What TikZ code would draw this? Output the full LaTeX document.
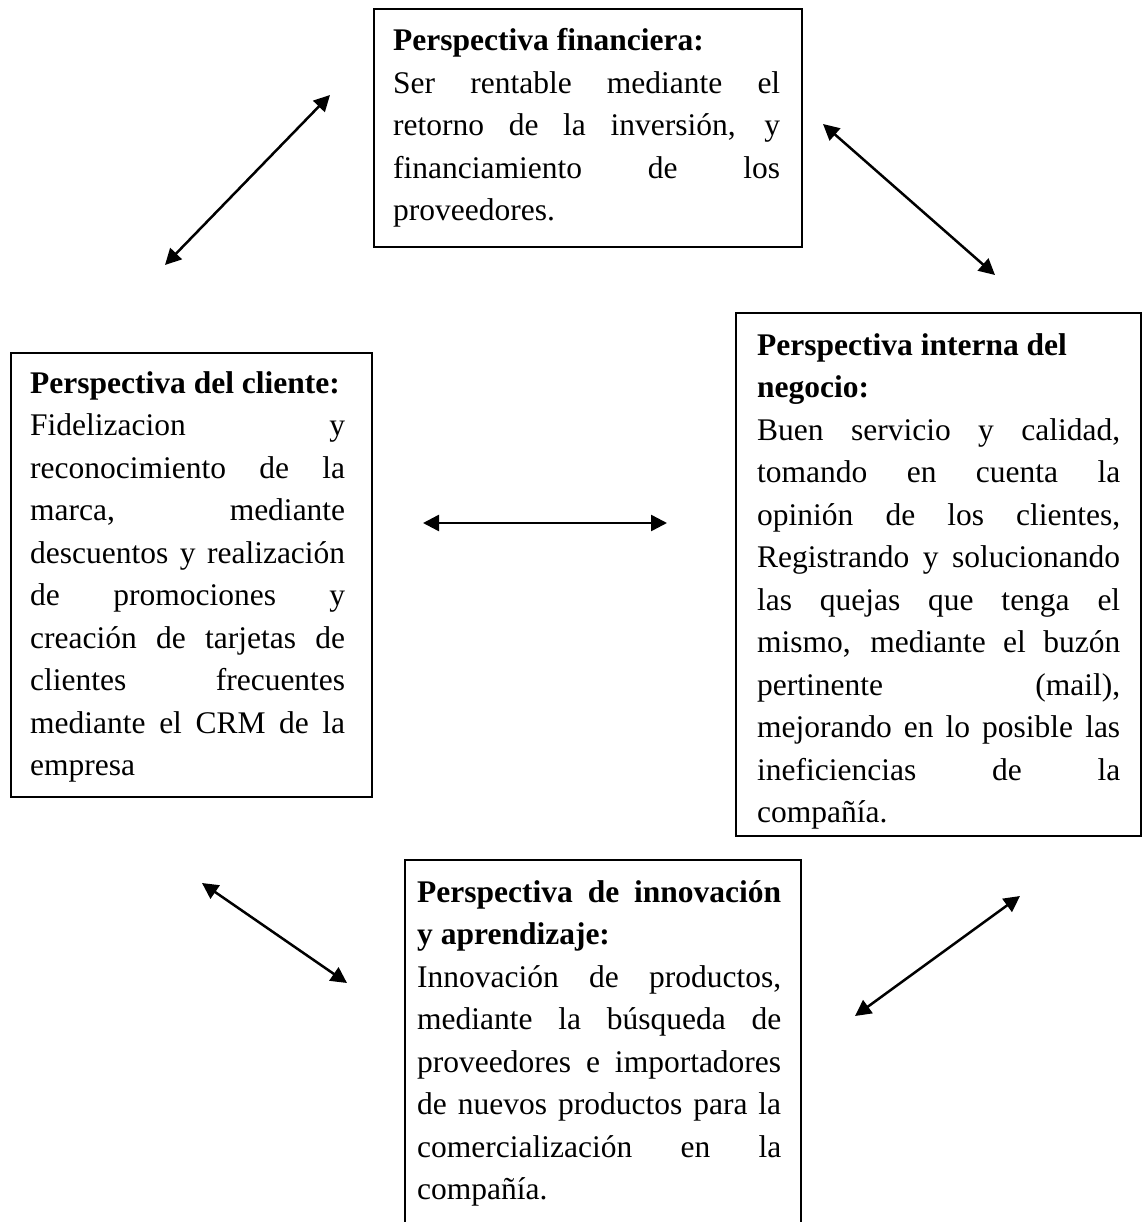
\documentclass[tikz,border=0pt]{standalone}
\usepackage{fontspec}
\setmainfont{Liberation Serif}
\usetikzlibrary{arrows.meta}
\newcommand\jfy{\rightskip=0pt\leftskip=0pt\parfillskip=0pt plus 1fil\relax}
\begin{document}
\begin{tikzpicture}[x=1pt,y=-1pt,
  boxline/.style={draw=black,line width=2pt},
  txt/.style={anchor=north west,inner sep=0pt,align=justify,
    font=\fontsize{31.5}{42.5}\selectfont,
    execute at begin node={\tolerance=10000\hyphenpenalty=10000\exhyphenpenalty=10000\parindent=0pt}},
  biarrow/.style={line width=2.5pt,{Triangle[length=16pt,width=16pt]}-{Triangle[length=16pt,width=16pt]}}]
\useasboundingbox (0,0) rectangle (1142,1222);
\clip (0,0) rectangle (1142,1222);

% boxes
\draw[boxline] (374,9) rectangle (802,247);
\draw[boxline] (11,353) rectangle (372,797);
\draw[boxline] (736,313) rectangle (1141,836);
\draw[boxline] (405,860) rectangle (801,1240);

% texts
\node[txt,text width=387pt] (fin) at (393,28.3) {\jfy\textbf{Perspectiva financiera:}\\
Ser rentable mediante el\linebreak retorno de la inversión, y\linebreak financiamiento de los\linebreak proveedores.};

\node[txt,text width=315pt] (cli) at (30,371.3) {\jfy\textbf{Perspectiva del cliente:}\\
Fidelizacion y\linebreak reconocimiento de la\linebreak marca, mediante\linebreak descuentos y realización\linebreak de promociones y\linebreak creación de tarjetas de\linebreak clientes frecuentes\linebreak mediante el CRM de la\linebreak empresa};

\node[txt,text width=363pt] (int) at (757,333.3) {\jfy\textbf{Perspectiva interna del}\\
\textbf{negocio:}\\
Buen servicio y calidad,\linebreak tomando en cuenta la\linebreak opinión de los clientes,\linebreak Registrando y solucionando\linebreak las quejas que tenga el\linebreak mismo, mediante el buzón\linebreak pertinente (mail),\linebreak mejorando en lo posible las\linebreak ineficiencias de la\linebreak compañía.};

\node[txt,text width=364pt] (inn) at (417,880.3) {\jfy\textbf{Perspectiva de innovación}\linebreak \textbf{y aprendizaje:}\\
Innovación de productos,\linebreak mediante la búsqueda de\linebreak proveedores e importadores\linebreak de nuevos productos para la\linebreak comercialización en la\linebreak compañía.};

% arrow end points
\coordinate (a1s) at (165,265);
\coordinate (a1e) at (330,95);
\coordinate (a2s) at (823,124);
\coordinate (a2e) at (995,275);
\coordinate (a3s) at (423,523);
\coordinate (a3e) at (667,523);
\coordinate (a4s) at (202,883);
\coordinate (a4e) at (347,983);
\coordinate (a5s) at (1020,896);
\coordinate (a5e) at (855,1016);

\draw[biarrow] (a1s) -- (a1e);
\draw[biarrow] (a2s) -- (a2e);
\draw[biarrow] (a3s) -- (a3e);
\draw[biarrow] (a4s) -- (a4e);
\draw[biarrow] (a5s) -- (a5e);
\end{tikzpicture}
\end{document}
